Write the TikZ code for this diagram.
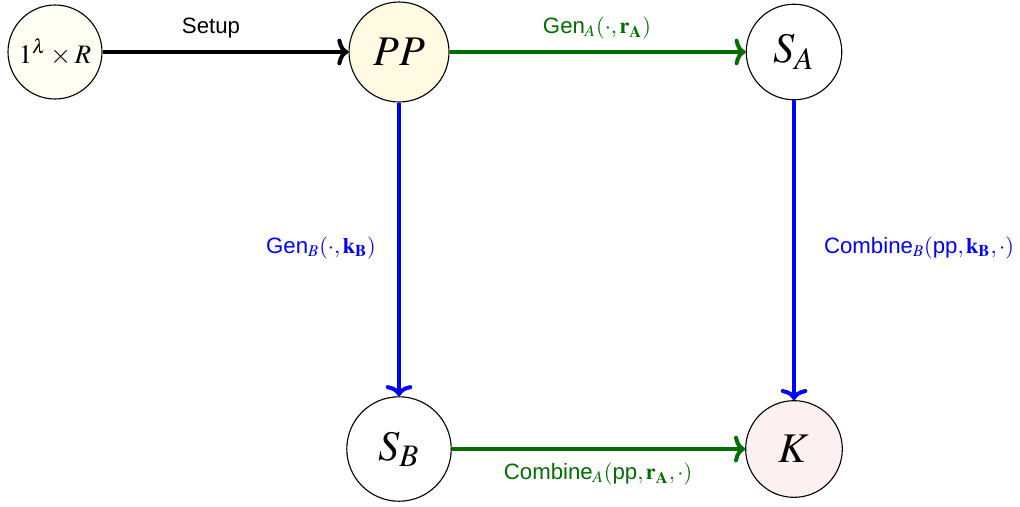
\documentclass[tikz,border=0pt]{standalone}
\usepackage{mathptmx}
\usepackage[no-math]{fontspec}
\setmainfont{Liberation Sans}
\usetikzlibrary{arrows.meta}
\definecolor{flowgreen}{RGB}{0,110,0}
\definecolor{flowblue}{RGB}{0,0,255}
\definecolor{fillsetup}{RGB}{255,254,242}
\definecolor{fillpp}{RGB}{255,250,225}
\definecolor{fillkey}{RGB}{252,240,240}
\begin{document}
\begin{tikzpicture}[x=0.45pt,y=-0.45pt,
  state/.style={circle,draw=black,line width=0.5pt,inner sep=0pt},
  flow/.style={line width=1.8pt,-{To[length=5pt,width=12pt]}},
  lbl/.style={font=\fontsize{10}{12}\selectfont}]
\useasboundingbox (0,0) rectangle (1020,506);
% states
\node[state,fill=fillsetup,minimum size=42.3pt,font=\fontsize{12}{14}\selectfont] (init) at (55,52) {$1^\lambda\times R$};
\node[state,fill=fillpp,minimum size=45pt,font=\fontsize{19}{22}\selectfont] (pp) at (399,52) {$PP$};
\node[state,fill=white,minimum size=43pt,font=\fontsize{19}{22}\selectfont] (sa) at (794,52) {$S_A$};
\node[state,fill=white,minimum size=47pt,font=\fontsize{19}{22}\selectfont] (sb) at (399,449) {$S_B$};
\node[state,fill=fillkey,minimum size=43.5pt,font=\fontsize{19}{22}\selectfont] (k) at (794,449) {$K$};
% transitions
\draw[flow,black] (init) -- (pp);
\draw[flow,flowgreen] (pp) -- (sa);
\draw[flow,flowblue] (pp) -- (sb);
\draw[flow,flowblue] (sa) -- (k);
\draw[flow,flowgreen] (sb) -- (k);
% labels
\node[lbl] (lsetup) at (211,28) {Setup};
\node[lbl,text=flowgreen] (lgena) at (597,28) {Gen$_A(\cdot,\mathbf{r}_{\mathbf{A}})$};
\node[lbl,text=flowblue] (lgenb) at (321,248) {Gen$_B(\cdot,\mathbf{k}_{\mathbf{B}})$};
\node[lbl,text=flowblue] (lcombb) at (919,248) {Combine$_B($pp$,\mathbf{k}_{\mathbf{B}},\cdot)$};
\node[lbl,text=flowgreen] (lcomba) at (598,474) {Combine$_A($pp$,\mathbf{r}_{\mathbf{A}},\cdot)$};
\end{tikzpicture}
\end{document}
